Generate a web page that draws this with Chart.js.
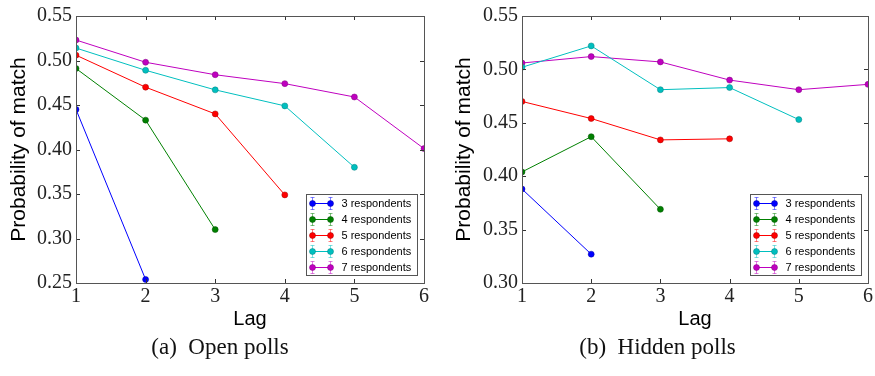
<!DOCTYPE html>
<html>
<head>
<meta charset="utf-8">
<script src="https://cdn.jsdelivr.net/npm/chart.js@4/dist/chart.umd.min.js"></script>
<style>
  body { margin: 0; background: #fff; }
  #wrap { position: relative; width: 875px; height: 376px; }
  canvas { position: absolute; top: 0; }
  .caption {
    position: absolute; top: 333px; height: 28px; line-height: 28px;
    text-align: center; font-family: 'Liberation Serif', serif; font-size: 23px; color: #111;
  }
</style>
</head>
<body>
<div id="wrap">
  <canvas id="openChart" width="440" height="376" style="left:0"></canvas>
  <canvas id="hiddenChart" width="435" height="376" style="left:440px"></canvas>
  <div class="caption" style="left:0;width:440px">(a)&nbsp; Open polls</div>
  <div class="caption" style="left:440px;width:435px">(b)&nbsp; Hidden polls</div>
</div>
<script>
// data
const lags = [1, 2, 3, 4, 5, 6];
const seriesNames = ['3 respondents', '4 respondents', '5 respondents', '6 respondents', '7 respondents'];
const colors = ['#0000ff', '#008000', '#ff0000', '#00bfbf', '#bf00bf'];
const edgeColors = ['#0000a0', '#005000', '#a00000', '#008080', '#800080'];

// open polls
const open3 = [0.445, 0.254];
const open4 = [0.491, 0.433, 0.310];
const open5 = [0.506, 0.470, 0.440, 0.349];
const open6 = [0.514, 0.489, 0.467, 0.449, 0.380];
const open7 = [0.523, 0.498, 0.484, 0.474, 0.459, 0.401];

// hidden polls
const hidden3 = [0.388, 0.327];
const hidden4 = [0.404, 0.437, 0.369];
const hidden5 = [0.470, 0.454, 0.434, 0.435];
const hidden6 = [0.502, 0.522, 0.481, 0.483, 0.453];
const hidden7 = [0.506, 0.512, 0.507, 0.490, 0.481, 0.486];

const openTicks = [0.25, 0.30, 0.35, 0.40, 0.45, 0.50, 0.55];
const hiddenTicks = [0.30, 0.35, 0.40, 0.45, 0.50, 0.55];

const sans = "'Liberation Sans', Arial, sans-serif";
const serif = "'Liberation Serif', 'Times New Roman', serif";

// frame with inward ticks on all sides, plus matplotlib-ish legend box
const framePlugin = {
  id: 'frame',
  afterDatasetsDraw(chart) {
    const {ctx, chartArea: a, scales: {x, y}} = chart;
    ctx.save();
    ctx.strokeStyle = '#333';
    ctx.lineWidth = 1;
    x.ticks.forEach(t => {
      const px = Math.round(x.getPixelForValue(t.value)) + 0.5;
      ctx.beginPath();
      ctx.moveTo(px, a.bottom); ctx.lineTo(px, a.bottom - 4);
      ctx.moveTo(px, a.top); ctx.lineTo(px, a.top + 4);
      ctx.stroke();
    });
    y.ticks.forEach(t => {
      const py = Math.round(y.getPixelForValue(t.value)) + 0.5;
      ctx.beginPath();
      ctx.moveTo(a.left, py); ctx.lineTo(a.left + 4, py);
      ctx.moveTo(a.right, py); ctx.lineTo(a.right - 4, py);
      ctx.stroke();
    });
    ctx.strokeStyle = '#555';
    ctx.strokeRect(Math.round(a.left) + 0.5, Math.round(a.top) + 0.5,
                   Math.round(a.right - a.left), Math.round(a.bottom - a.top));

    // legend
    const w = 111, h = 81;
    const lx = Math.round(a.right - 7 - w) + 0.5;
    const ly = Math.round(a.bottom - 8 - h) + 0.5;
    ctx.fillStyle = '#fff';
    ctx.fillRect(lx, ly, w, h);
    ctx.strokeStyle = '#555';
    ctx.strokeRect(lx, ly, w, h);
    ctx.font = '11px ' + sans;
    ctx.textBaseline = 'middle';
    chart.data.datasets.forEach((ds, i) => {
      const ry = ly + 9 + i * 16;
      const x0 = lx + 6, x1 = lx + 24;
      // error bar glyphs
      ctx.strokeStyle = ds.borderColor;
      ctx.globalAlpha = 0.5;
      [x0, x1].forEach(px => {
        ctx.beginPath();
        ctx.moveTo(px, ry - 6); ctx.lineTo(px, ry + 6);
        ctx.moveTo(px - 2, ry - 6); ctx.lineTo(px + 2, ry - 6);
        ctx.moveTo(px - 2, ry + 6); ctx.lineTo(px + 2, ry + 6);
        ctx.stroke();
      });
      ctx.globalAlpha = 1;
      ctx.beginPath();
      ctx.moveTo(x0, ry); ctx.lineTo(x1, ry);
      ctx.stroke();
      [x0, x1].forEach(px => {
        ctx.beginPath();
        ctx.arc(px, ry, 3, 0, Math.PI * 2);
        ctx.fillStyle = ds.pointBackgroundColor;
        ctx.fill();
        ctx.lineWidth = 0.5;
        ctx.strokeStyle = ds.pointBorderColor;
        ctx.stroke();
        ctx.lineWidth = 1;
        ctx.strokeStyle = ds.borderColor;
      });
      ctx.fillStyle = '#000';
      ctx.fillText(ds.label, lx + 35, ry + 0.5);
    });
    ctx.restore();
  }
};

function makeChart(id, series, ticks, yWidth, rightPad, titlePad) {
  const datasets = series.map((vals, i) => ({
    label: seriesNames[i],
    data: vals.map((v, j) => ({x: lags[j], y: v})),
    borderColor: colors[i],
    backgroundColor: colors[i],
    pointBackgroundColor: colors[i],
    pointBorderColor: edgeColors[i],
    pointBorderWidth: 0.5,
    pointRadius: 3,
    borderWidth: 1,
    tension: 0
  }));

  return new Chart(document.getElementById(id), {
    type: 'line',
    data: { datasets },
    options: {
      responsive: false,
      animation: false,
      layout: { padding: { left: 0, right: rightPad, top: 13, bottom: 45 } },
      plugins: { legend: { display: false }, tooltip: { enabled: false } },
      scales: {
        x: {
          type: 'linear',
          min: 1, max: 6,
          grid: { display: false, drawTicks: false },
          border: { display: false },
          ticks: {
            stepSize: 1, padding: 2, color: '#222',
            font: { family: serif, size: 20 }
          },
          title: {
            display: true, text: 'Lag', color: '#000',
            font: { family: sans, size: 20 }, padding: 0
          },
          afterFit: scale => { scale.height = 48; }
        },
        y: {
          min: ticks[0], max: ticks[ticks.length - 1],
          grid: { display: false, drawTicks: false },
          border: { display: false },
          afterBuildTicks: scale => { scale.ticks = ticks.map(v => ({value: v})); },
          ticks: {
            padding: 4, color: '#222',
            font: { family: serif, size: 20 },
            callback: v => v.toFixed(2)
          },
          title: {
            display: true, text: 'Probability of match', color: '#000',
            font: { family: sans, size: 21 }, padding: { top: titlePad, bottom: 0 }
          },
          afterFit: scale => { scale.width = yWidth; }
        }
      }
    },
    plugins: [framePlugin]
  });
}

makeChart('openChart', [open3, open4, open5, open6, open7], openTicks, 76, 16, 7);
makeChart('hiddenChart', [hidden3, hidden4, hidden5, hidden6, hidden7], hiddenTicks, 82, 3, 12);
</script>
</body>
</html>
